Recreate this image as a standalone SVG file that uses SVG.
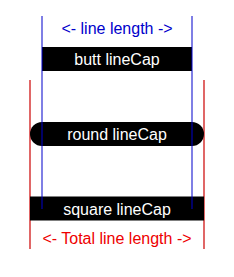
<svg xmlns="http://www.w3.org/2000/svg" width="234" height="277" viewBox="0 0 234 277">
<style>
.bar{stroke:#000;stroke-width:24;fill:none}
.lbl{font-family:"Liberation Sans",Arial,sans-serif;font-size:16px;text-anchor:middle}
.w{fill:#fff}
.guideB{stroke:#0000cc;stroke-opacity:0.5;stroke-width:2}
.guideR{stroke:#cc0000;stroke-width:1.2}
</style>
<rect width="234" height="277" fill="#fff"/>
<g id="connectors">
<line class="guideR" x1="30" y1="80" x2="30" y2="249"/>
<line class="guideR" x1="204" y1="80" x2="204" y2="249"/>
</g>
<g id="butt">
<line class="bar" x1="42" y1="59" x2="192" y2="59" stroke-linecap="butt"/>
<text class="lbl w" x="117" y="65">butt lineCap</text>
</g>
<g id="round">
<line class="bar" x1="42" y1="134" x2="192" y2="134" stroke-linecap="round"/>
<text class="lbl w" x="117" y="140">round lineCap</text>
</g>
<g id="square">
<line class="bar" x1="42" y1="208.5" x2="192" y2="208.5" stroke-linecap="square"/>
<text class="lbl w" x="117" y="214.5">square lineCap</text>
</g>
<g id="guides">
<line class="guideB" x1="42" y1="16" x2="42" y2="209"/>
<line class="guideB" x1="192" y1="16" x2="192" y2="209"/>
</g>
<g id="labels">
<text class="lbl" x="117" y="34" fill="#0000cc">&lt;- line length -&gt;</text>
<text class="lbl" x="117" y="244" fill="#ee0000">&lt;- Total line length -&gt;</text>
</g>
</svg>
